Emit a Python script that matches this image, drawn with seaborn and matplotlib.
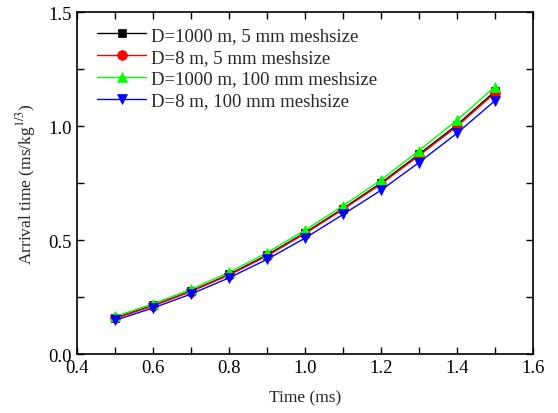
import numpy as np
import pandas as pd
import matplotlib
matplotlib.use("Agg")
import matplotlib.pyplot as plt
import seaborn as sns
from matplotlib.ticker import MultipleLocator

time = [0.5, 0.6, 0.7, 0.8, 0.9, 1.0, 1.1, 1.2, 1.3, 1.4, 1.5]
d1000_5mm = [0.158, 0.213, 0.276, 0.349, 0.434, 0.532, 0.638, 0.750, 0.876, 1.005, 1.152]
d8_5mm = [0.156, 0.211, 0.274, 0.346, 0.430, 0.528, 0.634, 0.745, 0.870, 0.998, 1.145]
d1000_100mm = [0.165, 0.220, 0.284, 0.358, 0.444, 0.543, 0.650, 0.763, 0.892, 1.026, 1.172]
d8_100mm = [0.148, 0.202, 0.263, 0.334, 0.415, 0.508, 0.612, 0.718, 0.840, 0.968, 1.111]
labels = ["D=1000 m, 5 mm meshsize", "D=8 m, 5 mm meshsize",
          "D=1000 m, 100 mm meshsize", "D=8 m, 100 mm meshsize"]

sns.set_theme(style="ticks")
plt.rcParams['font.family'] = ['Liberation Serif', 'DejaVu Serif']
plt.rcParams['mathtext.fontset'] = 'stix'

fig = plt.figure(figsize=(5.58, 4.14), dpi=100)
ax = fig.add_axes([0.138, 0.1425, 0.817, 0.826])

series = [d1000_5mm, d8_5mm, d1000_100mm, d8_100mm]
colors = ["#000000", "#ff0000", "#00ff00", "#0000ff"]
markers = ["s", "o", "^", "v"]
msizes = [5.5, 7, 7, 7]
for vals, lab, c, m, ms in zip(series, labels, colors, markers, msizes):
    df = pd.DataFrame({"t": time, "v": vals})
    sns.lineplot(data=df, x="t", y="v", ax=ax, color=c, marker=m, markersize=ms,
                 markeredgecolor=c, markeredgewidth=0.5, linewidth=1.0, label=lab)

ax.set_xlim(0.4, 1.6)
ax.set_ylim(0.0, 1.5)
ax.xaxis.set_major_locator(MultipleLocator(0.2))
ax.xaxis.set_minor_locator(MultipleLocator(0.1))
ax.yaxis.set_major_locator(MultipleLocator(0.5))
ax.yaxis.set_minor_locator(MultipleLocator(0.25))
ax.tick_params(which="both", direction="in", top=True, right=True, labelsize=13.5, width=1, colors="black")
ax.tick_params(which="major", length=5)
ax.tick_params(which="minor", length=5)
for s in ax.spines.values():
    s.set_linewidth(1.2)
    s.set_color("black")
ax.set_xlabel("Time (ms)", fontsize=12.5, labelpad=10)
ax.set_ylabel("Arrival time (ms/kg$^{1/3}$)", fontsize=12.5, labelpad=8)
ax.legend(loc="upper left", frameon=False, fontsize=13.5, handlelength=2.6,
          handletextpad=0.25, labelspacing=0.25, bbox_to_anchor=(0.02, 0.99), borderaxespad=0.2)
fig.savefig("out.png", dpi=100)
